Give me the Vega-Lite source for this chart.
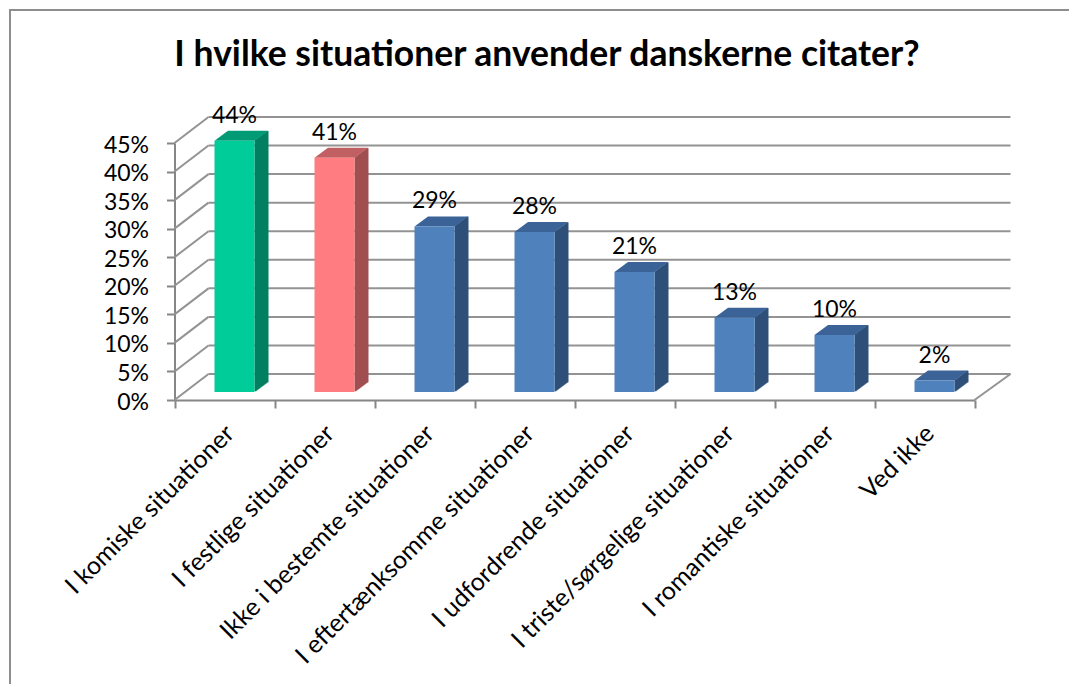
{
"$schema":"https://vega.github.io/schema/vega-lite/v6.json",
"autosize":{"type":"none"},
"padding":{"left":10,"top":10,"right":0,"bottom":0},
"width":1060,"height":675,
"background":"white",
"view":{"stroke":"#8e8e8e","strokeWidth":2,"fill":"white"},
"title":{"text":"I hvilke situationer anvender danskerne citater?","font":"Lato","fontSize":35.5,"fontWeight":"bold","color":"#000000","anchor":"middle","dx":7,"dy":33,"offset":-58,"baseline":"alphabetic"},
"datasets":{
"svar":[
{"situation":"I komiske situationer","andel":0.44,"gruppe":"grøn"},
{"situation":"I festlige situationer","andel":0.41,"gruppe":"rød"},
{"situation":"Ikke i bestemte situationer","andel":0.29,"gruppe":"blå"},
{"situation":"I eftertænksomme situationer","andel":0.28,"gruppe":"blå"},
{"situation":"I udfordrende situationer","andel":0.21,"gruppe":"blå"},
{"situation":"I triste/sørgelige situationer","andel":0.13,"gruppe":"blå"},
{"situation":"I romantiske situationer","andel":0.10,"gruppe":"blå"},
{"situation":"Ved ikke","andel":0.02,"gruppe":"blå"}
],
"akse":[{"t":0},{"t":0.05},{"t":0.1},{"t":0.15},{"t":0.2},{"t":0.25},{"t":0.3},{"t":0.35},{"t":0.4},{"t":0.45}]
},
"encoding":{
"x":{"field":"situation","type":"nominal","sort":null,"scale":{"type":"band","range":[164.5,964.5],"paddingInner":0,"paddingOuter":0,"domain":["I komiske situationer","I festlige situationer","Ikke i bestemte situationer","I eftertænksomme situationer","I udfordrende situationer","I triste/sørgelige situationer","I romantiske situationer","Ved ikke"]},
"axis":{"title":null,"orient":"bottom","offset":-285,"labelAngle":-45,"labelAlign":"right","labelBaseline":"middle","labelFont":"Lato","labelFontSize":25,"labelColor":"#000000","labelPadding":21,"labelOffset":5,"labelOverlap":false,"labelLimit":0,"domainColor":"#868686","domainWidth":2,"tickColor":"#868686","tickWidth":2,"tickSize":8,"tickBand":"extent"}}
},
"resolve":{"scale":{"color":"independent"}},
"layer":[
{"data":{"name":"akse"},"mark":{"type":"rule","color":"#939393","strokeWidth":2,"xOffset":34,"x2Offset":86,"yOffset":-26,"y2Offset":-26},
"encoding":{"x":{"datum":"I komiske situationer","bandPosition":0},"x2":{"datum":"Ved ikke"},"y":{"field":"t","type":"quantitative","scale":{"domain":[0,0.45],"range":[390,133]},
"axis":{"title":null,"orient":"left","offset":-164.5,"values":[0,0.05,0.1,0.15,0.2,0.25,0.3,0.35,0.4,0.45],"format":".0%","grid":false,"labelFont":"Lato","labelFontSize":23,"labelColor":"#000000","labelPadding":18,"labelOffset":2,"domainColor":"#868686","domainWidth":2,"tickColor":"#868686","tickWidth":2,"tickSize":8}}}},
{"data":{"name":"akse"},"mark":{"type":"point","shape":"M0,0L34,-26","size":4,"filled":false,"stroke":"#939393","strokeWidth":2,"opacity":1},
"encoding":{"x":{"datum":"I komiske situationer","bandPosition":0},"y":{"field":"t","type":"quantitative"}}},
{"data":{"values":[{"t":0}]},"mark":{"type":"point","shape":"M0,0L36,-26","size":4,"filled":false,"stroke":"#939393","strokeWidth":2,"opacity":1},
"encoding":{"x":{"datum":"Ved ikke","bandPosition":1},"y":{"field":"t","type":"quantitative"}}},
{"data":{"name":"svar"},
"encoding":{"y":{"field":"andel","type":"quantitative"},"y2":{"datum":0},
"color":{"field":"gruppe","type":"nominal","legend":null,"scale":{"domain":["grøn","rød","blå"],"range":["#008060","#A04F51","#2F5079"]}}},
"layer":[
{"mark":{"type":"bar","width":2,"xOffset":31,"yOffset":-8.75,"y2Offset":-8.75}},
{"mark":{"type":"bar","width":2,"xOffset":32,"yOffset":-9.5,"y2Offset":-9.5}},
{"mark":{"type":"bar","width":2,"xOffset":33,"yOffset":-10.25,"y2Offset":-10.25}},
{"mark":{"type":"bar","width":2,"xOffset":34,"yOffset":-11,"y2Offset":-11}},
{"mark":{"type":"bar","width":2,"xOffset":35,"yOffset":-11.75,"y2Offset":-11.75}},
{"mark":{"type":"bar","width":2,"xOffset":36,"yOffset":-12.5,"y2Offset":-12.5}},
{"mark":{"type":"bar","width":2,"xOffset":37,"yOffset":-13.25,"y2Offset":-13.25}},
{"mark":{"type":"bar","width":2,"xOffset":38,"yOffset":-14,"y2Offset":-14}},
{"mark":{"type":"bar","width":2,"xOffset":39,"yOffset":-14.75,"y2Offset":-14.75}},
{"mark":{"type":"bar","width":2,"xOffset":40,"yOffset":-15.5,"y2Offset":-15.5}},
{"mark":{"type":"bar","width":2,"xOffset":41,"yOffset":-16.25,"y2Offset":-16.25}},
{"mark":{"type":"bar","width":2,"xOffset":42,"yOffset":-17,"y2Offset":-17}},
{"mark":{"type":"bar","width":2,"xOffset":43,"yOffset":-17.75,"y2Offset":-17.75}}
]},
{"data":{"name":"svar"},"mark":{"type":"point","shape":"M-20,0L-6.5,-10L33.5,-10L20,0Z","size":4,"filled":true,"opacity":1,"xOffset":10,"yOffset":-8},
"encoding":{"y":{"field":"andel","type":"quantitative"},
"fill":{"field":"gruppe","type":"nominal","legend":null,"scale":{"domain":["grøn","rød","blå"],"range":["#009A74","#C06063","#3B6397"]}}}},
{"data":{"name":"svar"},"mark":{"type":"bar","width":40,"xOffset":10,"yOffset":-8,"y2Offset":-8},
"encoding":{"y":{"field":"andel","type":"quantitative"},"y2":{"datum":0},
"color":{"field":"gruppe","type":"nominal","legend":null,"scale":{"domain":["grøn","rød","blå"],"range":["#00CC99","#FF7C80","#4F81BD"]}}}},
{"data":{"name":"svar"},"mark":{"type":"text","font":"Lato","fontSize":23,"color":"#000000","baseline":"middle","align":"center","xOffset":10,"yOffset":-33},
"encoding":{"y":{"field":"andel","type":"quantitative"},"text":{"field":"andel","type":"quantitative","format":".0%"}}}
]
}
